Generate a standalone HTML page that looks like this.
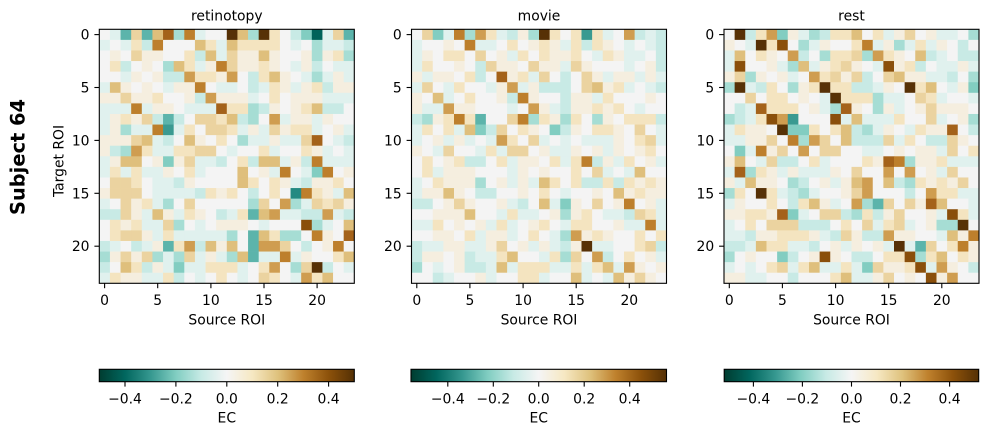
<!DOCTYPE html>
<html><head><meta charset="utf-8">
<style>
html,body{margin:0;padding:0;background:#fff;}
svg{display:block;font-family:"DejaVu Sans","Liberation Sans",sans-serif;}
</style></head><body>
<svg width="988" height="435" viewBox="0 0 988 435" xmlns="http://www.w3.org/2000/svg">
<defs>
<linearGradient id="cm" x1="0" x2="1" y1="0" y2="0">
<stop offset="0" stop-color="#003c30"/><stop offset="0.1" stop-color="#01665e"/><stop offset="0.2" stop-color="#35978f"/><stop offset="0.3" stop-color="#80cdc1"/><stop offset="0.4" stop-color="#c7eae5"/><stop offset="0.5" stop-color="#f5f5f5"/><stop offset="0.6" stop-color="#f6e8c3"/><stop offset="0.7" stop-color="#dfc27d"/><stop offset="0.8" stop-color="#bf812d"/><stop offset="0.9" stop-color="#8c510a"/><stop offset="1" stop-color="#543005"/>
</linearGradient>
</defs>
<rect x="0" y="0" width="988" height="435" fill="#fff"/>
<g>
<rect x="99.3" y="29.3" width="255" height="254" fill="#f2efe8"/>
<rect x="411.5" y="29.3" width="255" height="254" fill="#f2efe8"/>
<rect x="724" y="29.3" width="255" height="254" fill="#f2efe8"/>
</g>
<g id="maps"></g>
<g fill="none" stroke="#000" stroke-width="1.1">
<rect x="99.3" y="29.3" width="255" height="254"/>
<rect x="411.5" y="29.3" width="255" height="254"/>
<rect x="724" y="29.3" width="255" height="254"/>
</g>
<g stroke="#000" stroke-width="1.1">
<line x1="104.6" y1="283.3" x2="104.6" y2="288.2"/><line x1="157.7" y1="283.3" x2="157.7" y2="288.2"/><line x1="210.9" y1="283.3" x2="210.9" y2="288.2"/><line x1="264" y1="283.3" x2="264" y2="288.2"/><line x1="317.1" y1="283.3" x2="317.1" y2="288.2"/>
<line x1="416.8" y1="283.3" x2="416.8" y2="288.2"/><line x1="469.9" y1="283.3" x2="469.9" y2="288.2"/><line x1="523.1" y1="283.3" x2="523.1" y2="288.2"/><line x1="576.2" y1="283.3" x2="576.2" y2="288.2"/><line x1="629.3" y1="283.3" x2="629.3" y2="288.2"/>
<line x1="729.3" y1="283.3" x2="729.3" y2="288.2"/><line x1="782.4" y1="283.3" x2="782.4" y2="288.2"/><line x1="835.6" y1="283.3" x2="835.6" y2="288.2"/><line x1="888.7" y1="283.3" x2="888.7" y2="288.2"/><line x1="941.8" y1="283.3" x2="941.8" y2="288.2"/>
<line x1="94.4" y1="34.6" x2="99.3" y2="34.6"/><line x1="94.4" y1="87.5" x2="99.3" y2="87.5"/><line x1="94.4" y1="140.4" x2="99.3" y2="140.4"/><line x1="94.4" y1="193.3" x2="99.3" y2="193.3"/><line x1="94.4" y1="246.2" x2="99.3" y2="246.2"/>
<line x1="406.6" y1="34.6" x2="411.5" y2="34.6"/><line x1="406.6" y1="87.5" x2="411.5" y2="87.5"/><line x1="406.6" y1="140.4" x2="411.5" y2="140.4"/><line x1="406.6" y1="193.3" x2="411.5" y2="193.3"/><line x1="406.6" y1="246.2" x2="411.5" y2="246.2"/>
<line x1="719.1" y1="34.6" x2="724" y2="34.6"/><line x1="719.1" y1="87.5" x2="724" y2="87.5"/><line x1="719.1" y1="140.4" x2="724" y2="140.4"/><line x1="719.1" y1="193.3" x2="724" y2="193.3"/><line x1="719.1" y1="246.2" x2="724" y2="246.2"/>
<line x1="125" y1="381.7" x2="125" y2="386.6"/><line x1="175.9" y1="381.7" x2="175.9" y2="386.6"/><line x1="226.8" y1="381.7" x2="226.8" y2="386.6"/><line x1="277.7" y1="381.7" x2="277.7" y2="386.6"/><line x1="328.6" y1="381.7" x2="328.6" y2="386.6"/>
<line x1="447.8" y1="381.7" x2="447.8" y2="386.6"/><line x1="493.3" y1="381.7" x2="493.3" y2="386.6"/><line x1="538.7" y1="381.7" x2="538.7" y2="386.6"/><line x1="584.2" y1="381.7" x2="584.2" y2="386.6"/><line x1="629.7" y1="381.7" x2="629.7" y2="386.6"/>
<line x1="753.4" y1="381.7" x2="753.4" y2="386.6"/><line x1="802.4" y1="381.7" x2="802.4" y2="386.6"/><line x1="851.5" y1="381.7" x2="851.5" y2="386.6"/><line x1="900.5" y1="381.7" x2="900.5" y2="386.6"/><line x1="949.6" y1="381.7" x2="949.6" y2="386.6"/>
</g>
<rect x="99.3" y="369.3" width="255" height="12.4" fill="url(#cm)" stroke="#000" stroke-width="1.1"/>
<rect x="411" y="369.3" width="255.5" height="12.4" fill="url(#cm)" stroke="#000" stroke-width="1.1"/>
<rect x="724.2" y="369.3" width="254.5" height="12.4" fill="url(#cm)" stroke="#000" stroke-width="1.1"/>

<g font-size="13.9" fill="#000" text-anchor="middle">
<text x="226.8" y="20.7">retinotopy</text>
<text x="539" y="20.7">movie</text>
<text x="851.5" y="20.7">rest</text>
<text x="104.6" y="305.2">0</text><text x="157.7" y="305.2">5</text><text x="210.9" y="305.2">10</text><text x="264" y="305.2">15</text><text x="317.1" y="305.2">20</text>
<text x="416.8" y="305.2">0</text><text x="469.9" y="305.2">5</text><text x="523.1" y="305.2">10</text><text x="576.2" y="305.2">15</text><text x="629.3" y="305.2">20</text>
<text x="729.3" y="305.2">0</text><text x="782.4" y="305.2">5</text><text x="835.6" y="305.2">10</text><text x="888.7" y="305.2">15</text><text x="941.8" y="305.2">20</text>
<text x="226.8" y="324.3">Source ROI</text>
<text x="539" y="324.3">Source ROI</text>
<text x="851.5" y="324.3">Source ROI</text>
<text x="125" y="403.3">−0.4</text><text x="175.9" y="403.3">−0.2</text><text x="226.8" y="403.3">0.0</text><text x="277.7" y="403.3">0.2</text><text x="328.6" y="403.3">0.4</text>
<text x="447.8" y="403.3">−0.4</text><text x="493.3" y="403.3">−0.2</text><text x="538.7" y="403.3">0.0</text><text x="584.2" y="403.3">0.2</text><text x="629.7" y="403.3">0.4</text>
<text x="753.4" y="403.3">−0.4</text><text x="802.4" y="403.3">−0.2</text><text x="851.5" y="403.3">0.0</text><text x="900.5" y="403.3">0.2</text><text x="949.6" y="403.3">0.4</text>
<text x="226.8" y="422.7">EC</text><text x="538.7" y="422.7">EC</text><text x="851.5" y="422.7">EC</text>
<text transform="translate(63.3,161) rotate(-90)" x="0" y="0">Target ROI</text>
</g>
<g font-size="13.9" fill="#000" text-anchor="end">
<text x="89.5" y="39.6">0</text><text x="89.5" y="92.5">5</text><text x="89.5" y="145.4">10</text><text x="89.5" y="198.3">15</text><text x="89.5" y="251.2">20</text>
<text x="401.7" y="39.6">0</text><text x="401.7" y="92.5">5</text><text x="401.7" y="145.4">10</text><text x="401.7" y="198.3">15</text><text x="401.7" y="251.2">20</text>
<text x="714.2" y="39.6">0</text><text x="714.2" y="92.5">5</text><text x="714.2" y="145.4">10</text><text x="714.2" y="198.3">15</text><text x="714.2" y="251.2">20</text>
</g>
<text transform="translate(24.5,157) rotate(-90)" x="0" y="0" font-size="19.4" font-weight="bold" text-anchor="middle" fill="#000">Subject 64</text>
</svg>
<script>
(function(){
var C={w:"#f4f4f4","1":"#f5eedf","2":"#f4e4c0","3":"#ebd3a0","4":"#dfbf7c","5":"#cf9d50","6":"#bd7f2c","7":"#a4621a","8":"#8a4f0b","9":"#573106",
a:"#e0f1ee",b:"#c8eae5",c:"#a6ddd4",d:"#82cdc1",e:"#5cb4ab",f:"#3a9a91",g:"#248a82",h:"#01635a"};
var H=[[
"wae3e47c6aww94c92wbdha3e",
"awa2b6www42a42222wawcaab",
"w1w311ww2b4a31141ww1c12c",
"w2bw1wc42a1631121wa1bwaa",
"wwa1w1bb52215wb241waca1a",
"a41w1wa116waawba21a12b11",
"113112ww1b5111aw2w111aaa",
"aaa6a11waaa722cb1w124bbw",
"a1213bebw3324bcw5a11a1ww",
"a1caa6fa2w332a1a3122aw1a",
"11134abw41w2wcaa1aa37wab",
"1bc52aa2233waww2aww21awa",
"a144w1d13aabw2b44a1b6aaa",
"a2a2aa1w2awww4w1a6wad6w1",
"w332waab1wwww42w21ab112w",
"1333waaaab212wbw2wg621a4",
"aw312acw3wwwwwc3w5ca3231",
"bb31a41a21wba2e45aabb5ab",
"w212aa3cwaw111wawww8caw4",
"w2331a2aaaaacwe42ccw61w7",
"bawba1e25b414we553wbw16w",
"c1313cac3a1ac4eaa6a1ww24",
"bw42b1adaa222aw25wc39bwa",
"a211aa2bwaw2waw32wa524ww"
],[
"w3da6c52ab1c92w2f2aw5bab",
"aww1w6aaw2w121a2b21wawab",
"a1w22w3w1a2w2112wa21aawb",
"a2ww1wb311w311a31wwwaw1b",
"1a11w2bw712a3wbw31a11a1a",
"a3wa2wwa15a1bbbw3412awab",
"1w4aw2ww1b61wwb11a2www1w",
"1aa511wwwaw51ab11212waww",
"bc1262eww36c21c2wc1w222b",
"a2w2a4db3w21wdb1w221w3wa",
"aw1a1awa52w3awawaaa1w23a",
"1wa3wwa2a33w1aa1w1a1w12w",
"w2w12bbw2a11w2a26b1a2w1a",
"w2a111wwwa1w1ww2w3awa4ww",
"aw2111cw1a1a42w2bb2b2121",
"a1141wbbww1w2waww1w41211",
"bbw131ww1abw4ad1w3w16w1a",
"ww1114wwa2aaw1c12waab32a",
"aa2w1w1a2aw12wa22ww1aa6a",
"ww11w2a11aw2wac5121ww2w2",
"baa11aa13w1a1ab19aaww23b",
"b11w1baa24wwa2c3w5bw2w1a",
"cwaw1bba4a222aa2a24a51w1",
"wwbaww1aww22aww4awa4131w"
],[
"w9b25d1acb224w2a13w1aawc",
"1wa928wca1ww26a1ca2a1wbw",
"a4w21w5bwc223c521w4bawbb",
"a8ww1ac4a1231wa812bwaa1a",
"13c1w1aw52313bw3411aabwc",
"c9ab2wc12922bba1w924wa1d",
"ww3w22w1wa9222caaw32awwa",
"wba7222w1ac71wc1aw13111w",
"cba285fwww8a4aaa2ww3aw1c",
"a211w9dd2w24bca1wa2117wb",
"aa113w6c53w4bbb3a2wbb31w",
"wda613w5w33wwaaw1w11a3w2",
"14wa3bbw2awww2176c112aaa",
"a7c21a1aaa1w3ww5w5w1a3ww",
"1a411wcbw1a145w4bc21213w",
"c2w92abcaww135wwwbw522aa",
"a1ww2wb241aw5ce3w3174wwa",
"112217daw33bc2b13ww1a82a",
"aw2w333bbbw2w3a23aw1cc9w",
"aab112221ab31bb511wwa416",
"bba422aabw1a1w1a9ae3w261",
"cw1wwdbw181wbbw228c24w21",
"awaw23a24aa2ad31128a51wb",
"11aawwbwww24aa13w1w815ww"
]];
var X0=[99.3,411.5,724.0],Y0=29.3,CW=255/24,CH=254/24;
var out="";
for(var k=0;k<3;k++){for(var r=0;r<24;r++){var s=H[k][r];for(var c=0;c<24;c++){
var col=C[s.charAt(c)]||"#f4f4f4";
var w=(c==23)?CW:CW+0.35,h=(r==23)?CH:CH+0.35;
out+='<rect x="'+(X0[k]+c*CW).toFixed(2)+'" y="'+(Y0+r*CH).toFixed(2)+'" width="'+w.toFixed(2)+'" height="'+h.toFixed(2)+'" fill="'+col+'"/>';
}}}
document.getElementById("maps").innerHTML=out;
})();
</script>
</body></html>
